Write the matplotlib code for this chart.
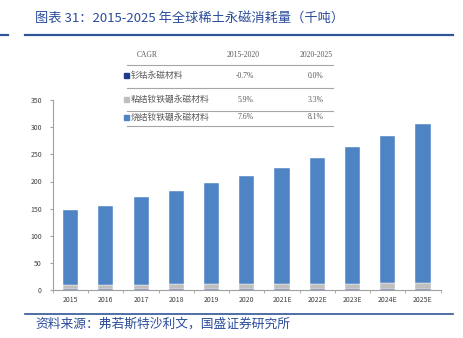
import matplotlib
matplotlib.use("Agg")
import matplotlib.pyplot as plt
import numpy as np
from matplotlib.lines import Line2D
from matplotlib.patches import Rectangle

plt.rcParams['font.family'] = ['Noto Sans CJK SC', 'DejaVu Sans']

years = ["2015", "2016", "2017", "2018", "2019", "2020",
         "2021E", "2022E", "2023E", "2024E", "2025E"]
smco = [3.0, 3.0, 3.0, 3.0, 3.0, 3.0, 3.0, 3.0, 3.0, 3.0, 3.0]
bonded = [6.5, 6.8, 7.2, 7.7, 8.1, 8.6, 8.9, 9.2, 9.5, 9.8, 10.1]
sintered = [138.0, 144.5, 160.5, 171.5, 187.0, 198.5, 213.0, 230.5, 251.5, 271.0, 293.0]

series_names = ["钐钴永磁材料", "粘结钕铁硼永磁材料", "烧结钕铁硼永磁材料"]
cagr_1520 = ["-0.7%", "5.9%", "7.6%"]
cagr_2025 = ["0.0%", "3.3%", "8.1%"]
colors = ["#1F3C88", "#BFBFBF", "#4F84C4"]

W, H = 463, 338
fig = plt.figure(figsize=(W / 100, H / 100), dpi=100)
ax = fig.add_axes([53 / W, 1 - 290.3 / H, (440.6 - 53) / W, (290.3 - 99.9) / H])

x = np.arange(len(years))
bw = 0.43
ax.bar(x, smco, bw, color=colors[0], edgecolor="white", linewidth=0.3)
ax.bar(x, bonded, bw, bottom=smco, color=colors[1], edgecolor="white", linewidth=0.3)
bottom2 = np.array(smco) + np.array(bonded)
ax.bar(x, sintered, bw, bottom=bottom2, color=colors[2], edgecolor="white", linewidth=0.3)

ax.set_xlim(-0.5, len(years) - 0.5)
ax.set_ylim(0, 350)
ax.set_yticks(np.arange(0, 351, 50))
ax.set_xticks(x)
ax.set_xticklabels(years)
ax.set_xticks(np.arange(-0.5, len(years) - 0.4, 1), minor=True)
ax.tick_params(axis="x", which="major", length=0, labelsize=5, colors="#404040", pad=4)
ax.tick_params(axis="x", which="minor", length=2, color="#A0A0A0")
ax.tick_params(axis="y", length=2, labelsize=5, colors="#404040", pad=6)
ax.tick_params(axis="y", color="#A0A0A0")
for s in ["top", "right"]:
    ax.spines[s].set_visible(False)
for s in ["left", "bottom"]:
    ax.spines[s].set_color("#A0A0A0")
    ax.spines[s].set_linewidth(0.8)

blue = "#2A4C9C"
# title and rules
fig.text(35 / W, 1 - 19 / H, "图表 31：2015-2025 年全球稀土永磁消耗量（千吨）",
         fontsize=9.5, color=blue, style="italic", va="center", ha="left")
fig.add_artist(Line2D([25 / W, 453 / W], [1 - 35 / H] * 2, color="#2F5597", lw=1.6))
fig.add_artist(Line2D([0, 8 / W], [1 - 35 / H] * 2, color="#2F5597", lw=1.6))
fig.add_artist(Line2D([25 / W, 453 / W], [1 - 314 / H] * 2, color="#2F5597", lw=1.2))
fig.text(35 / W, 1 - 324 / H, "资料来源：弗若斯特沙利文，国盛证券研究所",
         fontsize=9.2, color=blue, style="italic", va="center", ha="left")

# CAGR table
serif = ["Liberation Serif", "DejaVu Serif"]
tc = "#595959"
fig.text(147 / W, 1 - 55 / H, "CAGR", fontsize=5.5, color=tc, family=serif, ha="center", va="center")
fig.text(243 / W, 1 - 55 / H, "2015-2020", fontsize=5.5, color=tc, family=serif, ha="center", va="center")
fig.text(316 / W, 1 - 55 / H, "2020-2025", fontsize=5.5, color=tc, family=serif, ha="center", va="center")
line_ys = [64.5, 88, 111, 126]
for ly in line_ys:
    fig.add_artist(Line2D([127 / W, 333 / W], [1 - ly / H] * 2, color="#A6A6A6", lw=0.8))
row_ys = [75.5, 99.5, 117.5]
for i, ry in enumerate(row_ys):
    fig.add_artist(Rectangle((123.5 / W, 1 - (ry + 2.5) / H), 5 / W, 5 / H,
                             transform=fig.transFigure, color=colors[i]))
    fig.text(131 / W, 1 - ry / H, series_names[i], fontsize=6.3, color=tc, ha="left", va="center")
    fig.text(245 / W, 1 - ry / H, cagr_1520[i], fontsize=5.5, color=tc, family=serif, ha="center", va="center")
    fig.text(316 / W, 1 - ry / H, cagr_2025[i], fontsize=5.5, color=tc, family=serif, ha="center", va="center")

fig.savefig("out.png", dpi=100)
